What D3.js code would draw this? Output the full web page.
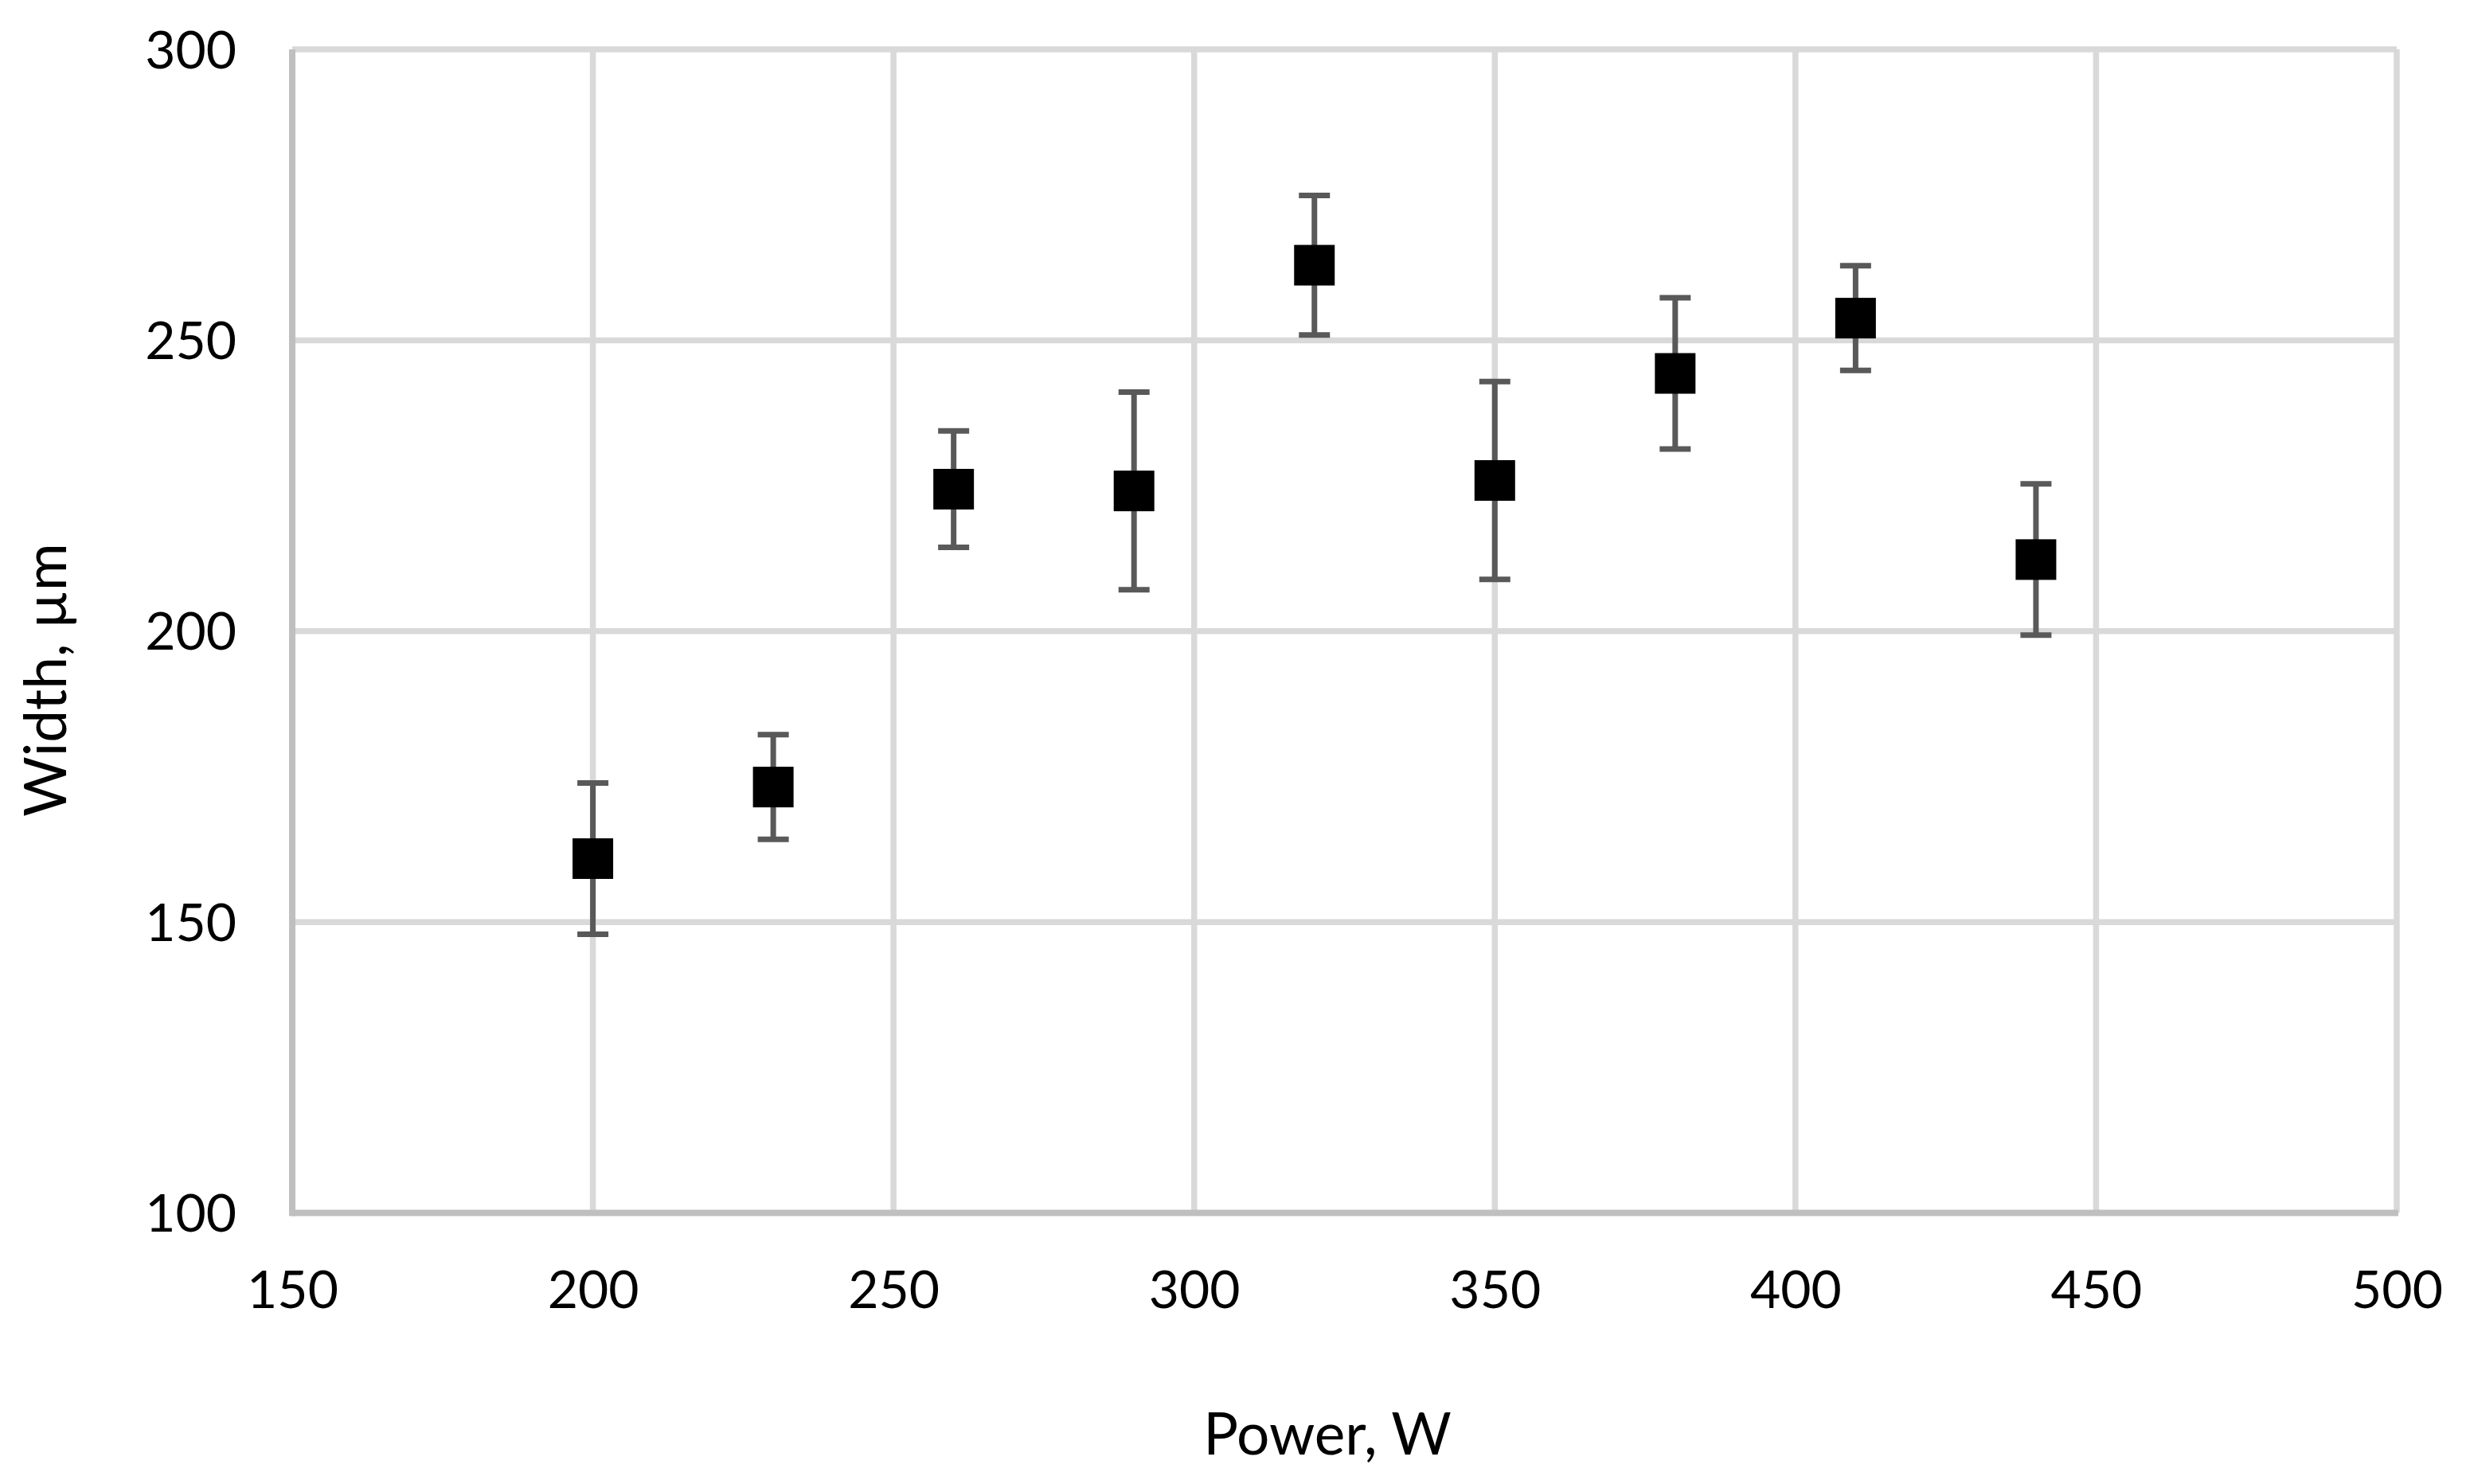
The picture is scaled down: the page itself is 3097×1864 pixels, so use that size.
<!DOCTYPE html>
<html>
<head>
<meta charset="utf-8">
<script src="https://cdn.jsdelivr.net/npm/d3@7"></script>
<style>
  html, body { margin: 0; padding: 0; background: #fff; }
  svg { display: block; }
  text { font-family: Lato, "Open Sans", sans-serif; fill: #000; }
</style>
</head>
<body>
<svg id="chart" width="3097" height="1864"></svg>
<script>
const power = [200, 230, 260, 290, 320, 350, 380, 410, 440];
const width = [160.9, 173.2, 224.4, 224.1, 262.9, 225.9, 244.3, 253.8, 212.3];
const errorPlus = [13, 9, 10, 17, 12, 17, 13, 9, 13];
const errorMinus = [13, 9, 10, 17, 12, 17, 13, 9, 13];
const xTicks = [150, 200, 250, 300, 350, 400, 450, 500];
const yTicks = [100, 150, 200, 250, 300];
const xTitle = "Power, W";
const yTitle = "Width, µm";

(function () {
const svg = d3.select("#chart");
const pLeft = 367, pRight = 3010, pTop = 62, pBottom = 1523.5;

const x = d3.scaleLinear().domain([150, 500]).range([pLeft, pRight]);
const y = d3.scaleLinear().domain([100, 300]).range([pBottom, pTop]);

// gridlines
const grid = svg.append("g");
grid.selectAll("line.v").data(xTicks.slice(1)).join("line")
  .attr("x1", d => x(d)).attr("x2", d => x(d))
  .attr("y1", pTop).attr("y2", pBottom)
  .attr("stroke", "#D9D9D9").attr("stroke-width", 7.5);
grid.selectAll("line.h").data(yTicks.slice(1)).join("line")
  .attr("x1", pLeft).attr("x2", pRight)
  .attr("y1", d => y(d)).attr("y2", d => y(d))
  .attr("stroke", "#D9D9D9").attr("stroke-width", 7.5);

// axis lines
svg.append("line").attr("x1", pLeft).attr("x2", pLeft).attr("y1", pTop).attr("y2", pBottom + 4)
  .attr("stroke", "#BFBFBF").attr("stroke-width", 8);
svg.append("line").attr("x1", pLeft).attr("x2", pRight + 2).attr("y1", pBottom).attr("y2", pBottom)
  .attr("stroke", "#BFBFBF").attr("stroke-width", 8);

// tick labels via d3 axes
const xAxis = svg.append("g").attr("transform", `translate(0,${pBottom})`)
  .call(d3.axisBottom(x).tickValues(xTicks).tickSize(0).tickPadding(0).tickFormat(d3.format("d")));
xAxis.select(".domain").remove();
xAxis.selectAll("text").attr("font-size", 66).attr("y", 119).attr("dy", 0)
  .style("font-family", "Lato, 'Open Sans', sans-serif").attr("fill", "#000");

const yAxis = svg.append("g").attr("transform", `translate(${pLeft},0)`)
  .call(d3.axisLeft(y).tickValues(yTicks).tickSize(0).tickPadding(0).tickFormat(d3.format("d")));
yAxis.select(".domain").remove();
yAxis.selectAll("text").attr("font-size", 66).attr("x", -70).attr("dy", "0.35em")
  .style("font-family", "Lato, 'Open Sans', sans-serif").attr("fill", "#000");

// titles
svg.append("text").attr("x", 1667).attr("y", 1827).attr("text-anchor", "middle")
  .attr("font-size", 73).text(xTitle);
svg.append("text").attr("transform", "translate(83,854) rotate(-90)").attr("text-anchor", "middle")
  .attr("font-size", 73).text(yTitle);

// data
const data = power.map((p, i) => ({ p, w: width[i], ep: errorPlus[i], em: errorMinus[i] }));
const eb = svg.append("g").attr("stroke", "#595959").attr("stroke-width", 7);
eb.selectAll("line.stem").data(data).join("line").attr("class", "stem")
  .attr("x1", d => x(d.p)).attr("x2", d => x(d.p))
  .attr("y1", d => y(d.w + d.ep)).attr("y2", d => y(d.w - d.em));
eb.selectAll("line.capt").data(data).join("line").attr("class", "capt")
  .attr("x1", d => x(d.p) - 19.5).attr("x2", d => x(d.p) + 19.5)
  .attr("y1", d => y(d.w + d.ep)).attr("y2", d => y(d.w + d.ep));
eb.selectAll("line.capb").data(data).join("line").attr("class", "capb")
  .attr("x1", d => x(d.p) - 19.5).attr("x2", d => x(d.p) + 19.5)
  .attr("y1", d => y(d.w - d.em)).attr("y2", d => y(d.w - d.em));

const ms = 51;
svg.append("g").selectAll("rect").data(data).join("rect")
  .attr("x", d => x(d.p) - ms / 2).attr("y", d => y(d.w) - ms / 2)
  .attr("width", ms).attr("height", ms).attr("fill", "#000");
})();
</script>
</body>
</html>
